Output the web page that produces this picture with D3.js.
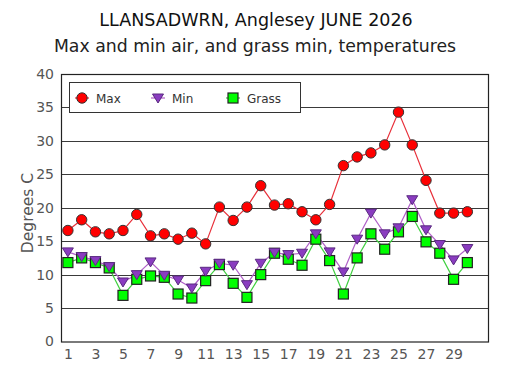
<!DOCTYPE html>
<html>
<head>
<meta charset="utf-8">
<script src="https://cdn.jsdelivr.net/npm/d3@7"></script>
<style>
    body { margin: 0; background: #fff; }
    svg { display: block; }
</style>
</head>
<body>
<div id="chart"></div>
<script>
var days = d3.range(1, 31);
var maxTemps = [16.6, 18.2, 16.4, 16.1, 16.6, 19.0, 15.8, 16.1, 15.3, 16.2,
                14.6, 20.1, 18.1, 20.1, 23.3, 20.4, 20.6, 19.4, 18.2, 20.5,
                26.3, 27.6, 28.2, 29.4, 34.3, 29.4, 24.1, 19.2, 19.2, 19.4];
var minTemps = [13.4, 12.7, 12.1, 11.2, 8.9, 10.0, 11.9, 9.9, 9.2, 8.0,
                10.5, 11.7, 11.4, 8.5, 11.7, 13.3, 13.0, 13.2, 16.1, 13.4,
                10.4, 15.3, 19.2, 16.1, 17.0, 21.2, 16.7, 14.5, 12.2, 13.9];
var grassTemps = [11.8, 12.5, 11.8, 11.0, 6.9, 9.3, 9.8, 9.6, 7.1, 6.5,
                  9.1, 11.5, 8.7, 6.6, 10.0, 13.2, 12.3, 11.4, 15.3, 12.1,
                  7.1, 12.5, 16.1, 13.8, 16.4, 18.7, 14.9, 13.2, 9.3, 11.8];
var yTicks = [0, 5, 10, 15, 20, 25, 30, 35, 40];
var xTicks = [1, 3, 5, 7, 9, 11, 13, 15, 17, 19, 21, 23, 25, 27, 29];

var width = 508, height = 376;
var font = "DejaVu Sans, Verdana, sans-serif";

var svg = d3.select("#chart")
    .append("svg")
    .attr("width", width)
    .attr("height", height);

var x = d3.scaleLinear().domain([0.5, 31.5]).range([61, 488]);
var y = d3.scaleLinear().domain([0, 40]).range([341.5, 74]);

// titles
svg.append("text")
    .attr("x", 256).attr("y", 26)
    .attr("text-anchor", "middle")
    .attr("font-family", font)
    .attr("font-size", "17.5px")
    .attr("fill", "#111")
    .text("LLANSADWRN, Anglesey JUNE 2026");

svg.append("text")
    .attr("x", 255).attr("y", 52)
    .attr("text-anchor", "middle")
    .attr("font-family", font)
    .attr("font-size", "17.3px")
    .attr("fill", "#222")
    .text("Max and min air, and grass min, temperatures");

// gridlines
svg.append("g")
    .selectAll("line")
    .data(yTicks.filter(function(d) { return d > 0 && d < 40; }))
    .enter().append("line")
    .attr("x1", x.range()[0]).attr("x2", x.range()[1])
    .attr("y1", function(d) { return Math.round(y(d)) + 0.5; })
    .attr("y2", function(d) { return Math.round(y(d)) + 0.5; })
    .attr("stroke", "#3a3a3a")
    .attr("stroke-width", 1);

// plot frame
svg.append("rect")
    .attr("x", x.range()[0] + 0.5).attr("y", y(40) + 0.5)
    .attr("width", x.range()[1] - x.range()[0])
    .attr("height", y(0) - y(40))
    .attr("fill", "none")
    .attr("stroke", "#222")
    .attr("stroke-width", 1.2);

// y axis labels
var yAxis = svg.append("g")
    .attr("transform", "translate(" + x.range()[0] + ",0)")
    .call(d3.axisLeft(y).tickValues(yTicks).tickSize(0).tickPadding(7));
yAxis.select(".domain").remove();
yAxis.selectAll("text")
    .attr("font-family", font)
    .attr("font-size", "14px")
    .attr("fill", "#555");

// x axis labels
var xAxis = svg.append("g")
    .attr("transform", "translate(0," + y(0) + ")")
    .call(d3.axisBottom(x).tickValues(xTicks).tickSize(0).tickPadding(8).tickFormat(d3.format("d")));
xAxis.select(".domain").remove();
xAxis.selectAll("text")
    .attr("font-family", font)
    .attr("font-size", "14px")
    .attr("fill", "#555");

// y axis title
svg.append("text")
    .attr("transform", "translate(33," + 213 + ") rotate(-90)")
    .attr("text-anchor", "middle")
    .attr("font-family", font)
    .attr("font-size", "15.5px")
    .attr("fill", "#555")
    .text("Degrees C");

var series = [
    { name: "Max", values: maxTemps, line: "#e8303a", fill: "#ff0000", shape: "circle" },
    { name: "Min", values: minTemps, line: "#b060c8", fill: "#8a3cc0", shape: "triangle" },
    { name: "Grass", values: grassTemps, line: "#40d040", fill: "#00ff00", shape: "square" }
];

var line = d3.line()
    .x(function(d, i) { return x(days[i]); })
    .y(function(d) { return y(d); });

function drawMarker(g, shape, fill) {
    if (shape === "circle") {
        g.append("circle").attr("r", 5.2)
            .attr("fill", fill).attr("stroke", "#333").attr("stroke-width", 1);
    } else if (shape === "triangle") {
        g.append("path").attr("d", "M-5.5,-4 L5.5,-4 L0,5 Z")
            .attr("fill", fill).attr("stroke", "#5a2a80").attr("stroke-width", 1);
    } else {
        g.append("rect").attr("x", -5).attr("y", -5).attr("width", 10).attr("height", 10)
            .attr("fill", fill).attr("stroke", "#222").attr("stroke-width", 1.2);
    }
}

// draw grass first, then min, then max
series.slice().reverse().forEach(function(s) {
    svg.append("path")
        .datum(s.values)
        .attr("d", line)
        .attr("fill", "none")
        .attr("stroke", s.line)
        .attr("stroke-width", 1.2);
});
series.slice().reverse().forEach(function(s) {
    svg.append("g")
        .selectAll("g")
        .data(s.values)
        .enter().append("g")
        .attr("transform", function(d, i) { return "translate(" + x(days[i]) + "," + y(d) + ")"; })
        .each(function() { drawMarker(d3.select(this), s.shape, s.fill); });
});

// legend
var legend = svg.append("g").attr("transform", "translate(69,82)");
legend.append("rect")
    .attr("x", 0.5).attr("y", 0.5)
    .attr("width", 231).attr("height", 30)
    .attr("fill", "#fff")
    .attr("stroke", "#333")
    .attr("stroke-width", 1);

var legendX = [13, 89, 164];
series.forEach(function(s, i) {
    var item = legend.append("g").attr("transform", "translate(" + legendX[i] + ",16)");
    item.append("line")
        .attr("x1", -7).attr("x2", 7)
        .attr("stroke", s.line).attr("stroke-width", 1.2);
    drawMarker(item.append("g"), s.shape, s.fill);
    item.append("text")
        .attr("x", 14).attr("y", 4.5)
        .attr("font-family", font)
        .attr("font-size", "12px")
        .attr("fill", "#333")
        .text(s.name);
});
</script>
</body>
</html>
